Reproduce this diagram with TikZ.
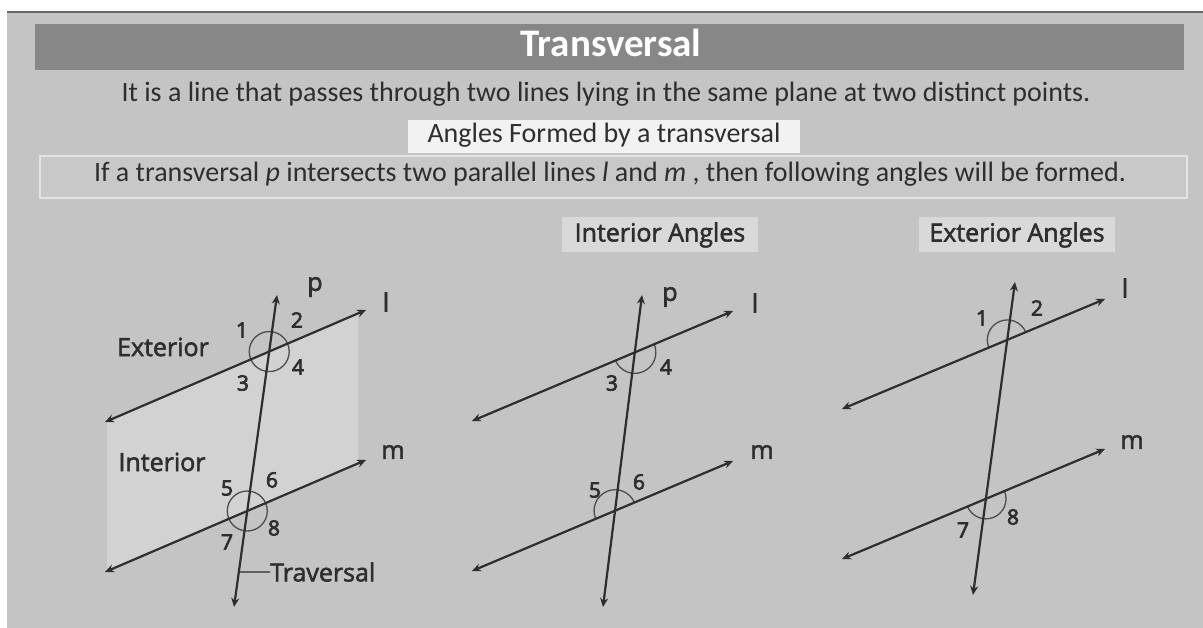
\documentclass[tikz,border=0pt]{standalone}
\usepackage{fontspec}
\setmainfont{Carlito}
\newfontfamily\osans[FakeBold=2.2]{Open Sans}
\newfontfamily\osnum[FakeBold=3.5]{Open Sans}
\usetikzlibrary{arrows.meta}
\definecolor{bg}{HTML}{C4C4C4}
\definecolor{bar}{HTML}{878787}
\definecolor{ink}{HTML}{2E2E2E}
\definecolor{lightreg}{HTML}{D2D2D2}
\definecolor{lblbox}{HTML}{D9D9D9}
\definecolor{framefill}{HTML}{C8C8C8}
\definecolor{frameline}{HTML}{E4E4E4}
\begin{document}
\begin{tikzpicture}[x=1pt,y=-1pt,
  ln/.style={line width=2.2pt, draw=ink, {Stealth[length=9pt,width=8pt]}-{Stealth[length=9pt,width=8pt]}},
  ang/.style={line width=1.3pt, draw=ink!85},
  hdr/.style={font=\fontsize{28}{30}\selectfont, text=ink, inner sep=0pt, anchor=base},
  lbl/.style={font=\osans\fontsize{25}{25}\selectfont, text=ink, inner sep=0pt},
  num/.style={font=\osnum\fontsize{21}{21}\selectfont, text=ink, inner sep=0pt},
  ltr/.style={font=\osans\fontsize{25}{25}\selectfont, text=ink, inner sep=0pt},
  tagbox/.style={fill=lblbox, minimum width=196pt, minimum height=35pt, inner sep=0pt, font=\osans\fontsize{25}{25}\selectfont, text=ink}
]
\useasboundingbox (0,0) rectangle (1203,628);
\fill[white] (0,0) rectangle (1203,628);
\fill[bg] (7,12) rectangle (1203,628);
\draw[line width=2pt, draw=gray!80!black] (7,12) -- (1203,12);
% title
\fill[bar] (35,24) rectangle (1184,70);
\node[font=\bfseries\fontsize{39}{40}\selectfont, text=white, inner sep=0pt, anchor=base] (title) at (611,57) {Transversal};
\node[hdr] (def) at (606,102) {It is a line that passes through two lines lying in the same plane at two distinct points.};
\fill[white!95!black] (408,120) rectangle (800,153);
\node[hdr] (sub) at (604,143) {Angles Formed by a transversal};
\filldraw[fill=framefill, draw=frameline, line width=2.5pt] (40,156) rectangle (1187,198);
\node[hdr] (cond) at (610,182) {If a transversal \textit{p} intersects two parallel lines \textit{l} and \textit{m} , then following angles will be formed.};
\node[tagbox] (tint) at (660,235) {Interior Angles};
\node[tagbox] (text) at (1017,235) {Exterior Angles};

% ---------- diagram 1 ----------
\coordinate (p1t) at (277,295); \coordinate (p1b) at (234,607);
\coordinate (l1a) at (105,422); \coordinate (l1b) at (366,310);
\coordinate (m1a) at (105,572); \coordinate (m1b) at (366,460);
\fill[lightreg] (107,421) -- (358,314) -- (358,463) -- (107,571) -- cycle;
\coordinate (X1) at (intersection of p1t--p1b and l1a--l1b);
\coordinate (Y1) at (intersection of p1t--p1b and m1a--m1b);
\draw[ang] (X1) circle[radius=20pt];
\draw[ang] (Y1) circle[radius=20pt];
\draw[ln] (l1a) -- (l1b);
\draw[ln] (m1a) -- (m1b);
\draw[ln] (p1b) -- (p1t);
\node[ltr] (p1) at (315,287) {p};
\node[ltr] (l1) at (386,302) {l};
\node[ltr] (m1) at (393,452) {m};
\node[num] (a1) at (242,330) {1};
\node[num] (a2) at (297,320) {2};
\node[num] (a3) at (243,383) {3};
\node[num] (a4) at (298,367) {4};
\node[num] (a5) at (227,488) {5};
\node[num] (a6) at (272,480) {6};
\node[num] (a7) at (227,542) {7};
\node[num] (a8) at (274,528) {8};
\node[lbl] (ext) at (163,347) {Exterior};
\node[lbl] (int) at (162,462) {Interior};
\node[lbl, anchor=west] (trav) at (270,572) {Traversal};
\coordinate (tk) at (intersection of p1t--p1b and 0,572--10,572);
\draw[line width=1.3pt, draw=ink] (tk) -- (trav.west);

% ---------- diagram 2 ----------
\coordinate (p2t) at (642,295); \coordinate (p2b) at (603,607);
\coordinate (l2a) at (472,421); \coordinate (l2b) at (733,311);
\coordinate (m2a) at (472,571); \coordinate (m2b) at (733,461);
\coordinate (X2) at (intersection of p2t--p2b and l2a--l2b);
\coordinate (Y2) at (intersection of p2t--p2b and m2a--m2b);
\draw[ang] ([shift={(23:21pt)}]X2) arc[start angle=23, end angle=-157, radius=21pt];
\draw[ang] ([shift={(23:21pt)}]Y2) arc[start angle=23, end angle=203, radius=21pt];
\draw[ln] (l2a) -- (l2b);
\draw[ln] (m2a) -- (m2b);
\draw[ln] (p2b) -- (p2t);
\node[ltr] (p2) at (670,297) {p};
\node[ltr] (l2) at (755,303) {l};
\node[ltr] (m2) at (762,452) {m};
\node[num] (b3) at (612,383) {3};
\node[num] (b4) at (666,367) {4};
\node[num] (b5) at (595,490) {5};
\node[num] (b6) at (639,482) {6};

% ---------- diagram 3 ----------
\coordinate (p3t) at (1015,282); \coordinate (p3b) at (973,595);
\coordinate (l3a) at (842,409); \coordinate (l3b) at (1105,299);
\coordinate (m3a) at (842,559); \coordinate (m3b) at (1105,449);
\coordinate (X3) at (intersection of p3t--p3b and l3a--l3b);
\coordinate (Y3) at (intersection of p3t--p3b and m3a--m3b);
\draw[ang] ([shift={(23:20pt)}]X3) arc[start angle=23, end angle=203, radius=20pt];
\draw[ang] ([shift={(23:20pt)}]Y3) arc[start angle=23, end angle=-157, radius=20pt];
\draw[ln] (l3a) -- (l3b);
\draw[ln] (m3a) -- (m3b);
\draw[ln] (p3b) -- (p3t);
\node[ltr] (l3) at (1125,288) {l};
\node[ltr] (m3) at (1132,442) {m};
\node[num] (c1) at (982,318) {1};
\node[num] (c2) at (1037,308) {2};
\node[num] (c7) at (963,530) {7};
\node[num] (c8) at (1013,517) {8};
\end{tikzpicture}
\end{document}
